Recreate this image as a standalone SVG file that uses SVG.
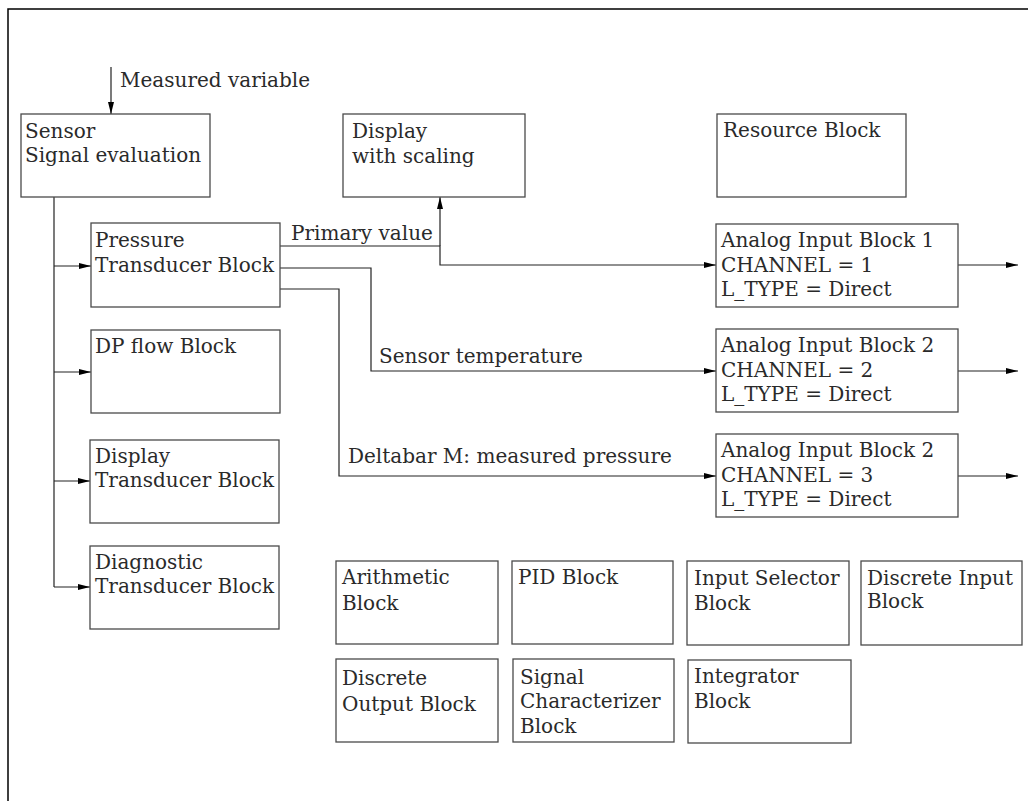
<svg xmlns="http://www.w3.org/2000/svg" width="1028" height="801" viewBox="0 0 1028 801">
<defs>
<marker id="ah" viewBox="0 0 12 6" refX="12" refY="3" markerWidth="12" markerHeight="6" markerUnits="userSpaceOnUse" orient="auto">
<path d="M0,0 L12,3 L0,6 Z" fill="#000"/>
</marker>
<style>
.box{fill:#fff;stroke:#4a4a4a;stroke-width:1.3}
.t{font-family:"DejaVu Serif","Liberation Serif",serif;font-size:20px;fill:#2a2a2a}
.c{fill:none;stroke:#222;stroke-width:1.2}
.a{marker-end:url(#ah)}
.frame{fill:none;stroke:#000;stroke-width:1.5}
</style>
</defs>
<rect width="1028" height="801" fill="#fff"/>
<path class="frame" d="M8,801 V9 H1028"/>

<g id="connectors">
<path class="c a" d="M111,67 V114"/>
<path class="c" d="M54,197 V587"/>
<path class="c a" d="M54,266 H91"/>
<path class="c a" d="M54,372 H91"/>
<path class="c a" d="M54,481 H90"/>
<path class="c a" d="M54,587 H90"/>
<path class="c a" d="M280,246 H440 V265 H716"/>
<path class="c a" d="M440,246 V197"/>
<path class="c a" d="M280,268 H371 V371 H716"/>
<path class="c a" d="M280,289 H339 V476 H716"/>
<path class="c a" d="M958,265 H1018"/>
<path class="c a" d="M958,371 H1018"/>
<path class="c a" d="M958,476 H1018"/>
<text class="t" x="120" y="87">Measured variable</text>
<text class="t" x="291" y="240">Primary value</text>
<text class="t" x="379" y="363">Sensor temperature</text>
<text class="t" x="348" y="463">Deltabar M: measured pressure</text>
</g>

<g id="sensor">
<rect class="box" x="21" y="114" width="189" height="83"/>
<text class="t" x="25" y="138">Sensor</text>
<text class="t" x="25" y="162">Signal evaluation</text>
</g>
<g id="display">
<rect class="box" x="343" y="114" width="182" height="83"/>
<text class="t" x="352" y="138">Display</text>
<text class="t" x="352" y="163">with scaling</text>
</g>
<g id="resource">
<rect class="box" x="717" y="114" width="189" height="83"/>
<text class="t" x="723" y="137">Resource Block</text>
</g>
<g id="pressure">
<rect class="box" x="91" y="223" width="189" height="84"/>
<text class="t" x="95" y="247">Pressure</text>
<text class="t" x="95" y="272">Transducer Block</text>
</g>
<g id="dpflow">
<rect class="box" x="91" y="330" width="189" height="83"/>
<text class="t" x="95" y="353">DP flow Block</text>
</g>
<g id="displaytb">
<rect class="box" x="90" y="440" width="189" height="83"/>
<text class="t" x="95" y="463">Display</text>
<text class="t" x="95" y="487">Transducer Block</text>
</g>
<g id="diagnostic">
<rect class="box" x="90" y="546" width="189" height="83"/>
<text class="t" x="95" y="569">Diagnostic</text>
<text class="t" x="95" y="593">Transducer Block</text>
</g>
<g id="ai1">
<rect class="box" x="716" y="224" width="242" height="83"/>
<text class="t" x="721" y="247">Analog Input Block 1</text>
<text class="t" x="721" y="272">CHANNEL = 1</text>
<text class="t" x="721" y="296">L_TYPE = Direct</text>
</g>
<g id="ai2">
<rect class="box" x="716" y="329" width="242" height="83"/>
<text class="t" x="721" y="352">Analog Input Block 2</text>
<text class="t" x="721" y="377">CHANNEL = 2</text>
<text class="t" x="721" y="401">L_TYPE = Direct</text>
</g>
<g id="ai3">
<rect class="box" x="716" y="434" width="242" height="83"/>
<text class="t" x="721" y="457">Analog Input Block 2</text>
<text class="t" x="721" y="482">CHANNEL = 3</text>
<text class="t" x="721" y="506">L_TYPE = Direct</text>
</g>
<g id="arithmetic">
<rect class="box" x="336" y="561" width="162" height="83"/>
<text class="t" x="342" y="584">Arithmetic</text>
<text class="t" x="342" y="610">Block</text>
</g>
<g id="pid">
<rect class="box" x="512" y="561" width="161" height="83"/>
<text class="t" x="518" y="584">PID Block</text>
</g>
<g id="inputselector">
<rect class="box" x="687" y="561" width="162" height="84"/>
<text class="t" x="694" y="585">Input Selector</text>
<text class="t" x="694" y="610">Block</text>
</g>
<g id="discreteinput">
<rect class="box" x="861" y="561" width="161" height="84"/>
<text class="t" x="867" y="585">Discrete Input</text>
<text class="t" x="867" y="608">Block</text>
</g>
<g id="discreteoutput">
<rect class="box" x="336" y="659" width="162" height="83"/>
<text class="t" x="342" y="685">Discrete</text>
<text class="t" x="342" y="711">Output Block</text>
</g>
<g id="signalchar">
<rect class="box" x="513" y="659" width="161" height="83"/>
<text class="t" x="520" y="684">Signal</text>
<text class="t" x="520" y="708">Characterizer</text>
<text class="t" x="520" y="733">Block</text>
</g>
<g id="integrator">
<rect class="box" x="688" y="660" width="163" height="83"/>
<text class="t" x="694" y="683">Integrator</text>
<text class="t" x="694" y="708">Block</text>
</g>
</svg>
